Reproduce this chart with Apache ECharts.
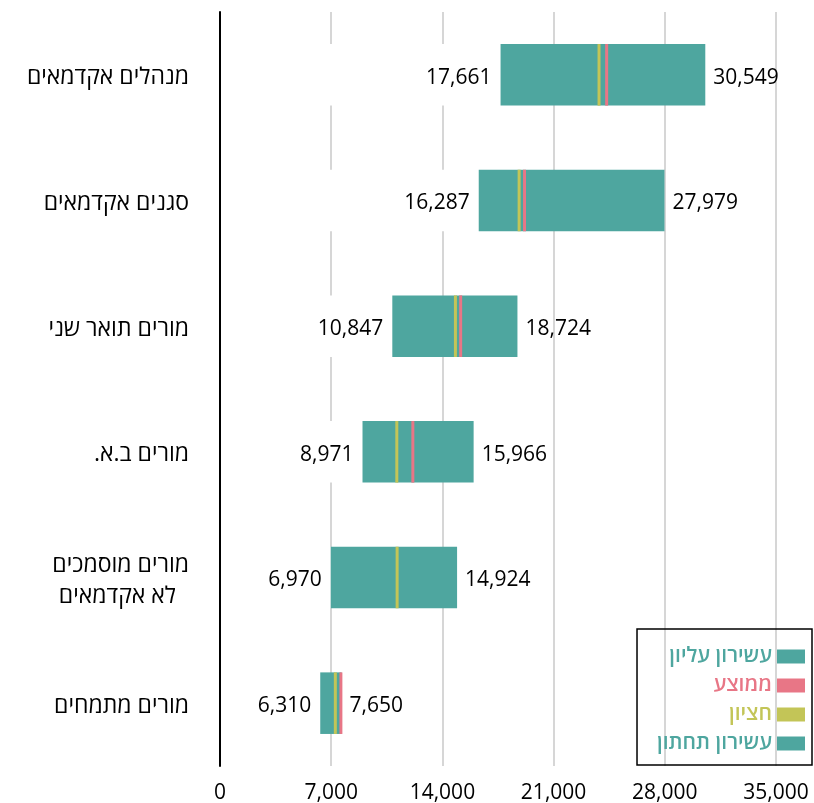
<!DOCTYPE html>
<html>
<head>
<meta charset="utf-8">
<script src="https://cdn.jsdelivr.net/npm/echarts@6/dist/echarts.min.js"></script>
<style>
html,body{margin:0;padding:0;background:#fff;}
#main{width:814px;height:803px;}
</style>
</head>
<body>
<div id="main"></div>
<script>
var categories = ['מנהלים אקדמאים','סגנים אקדמאים','מורים תואר שני','מורים ב.א.\u200F','מורים מוסמכים\nלא אקדמאים','מורים מתמחים'];
var lowerDecile = [17661,16287,10847,8971,6970,6310];
var upperDecile = [30549,27979,18724,15966,14924,7650];
var median = [23860,18830,14820,11130,11150,7260];
var mean = [24340,19170,15150,12140,null,7610];
var xTicks = [0,7000,14000,21000,28000,35000];

var teal = '#4ea69f';
var pink = '#e87686';
var olive = '#c3c557';
var font = 'Open Sans';

function fmt(v){
	return v.toLocaleString('en-US');
}

//קו אנכי לחציון / ממוצע
function lineItem(params,api){
	var v = api.value(0);
	if(v==null || isNaN(v)) return;
	var c = api.coord([v,api.value(1)]);
	var h = api.size([0,1])[1]*0.49;
	return {
		type:'rect',
		shape:{x:c[0]-1.5,y:c[1]-h/2,width:3,height:h},
		style:{fill:api.visual('color')}
	};
}

var baseData = [], lowData = [], highData = [], medData = [], meanData = [];
for(var i=0;i<categories.length;i++){
	baseData.push(lowerDecile[i]);
	lowData.push(median[i]-lowerDecile[i]);
	highData.push(upperDecile[i]-median[i]);
	medData.push([median[i],i]);
	meanData.push([mean[i]==null?'-':mean[i],i]);
}

var myChart = echarts.init(document.getElementById('main'));
var option = {
	animation:false,
	textStyle:{fontFamily:font},
	grid:{left:220,right:38,top:12,bottom:37,outerBoundsMode:'none'},
	legend:{
		orient:'vertical',
		right:2,
		bottom:38,
		align:'right',
		icon:'rect',
		itemWidth:28,
		itemHeight:14,
		itemGap:8,
		borderColor:'#000',
		borderWidth:1.5,
		borderRadius:0,
		padding:[17,7,11,20],
		textStyle:{fontSize:21,fontWeight:600,fontFamily:font},
		data:[
			{name:'עשירון עליון',textStyle:{color:teal}},
			{name:'ממוצע',textStyle:{color:pink}},
			{name:'חציון',textStyle:{color:olive}},
			{name:'עשירון תחתון',textStyle:{color:teal}}
		]
	},
	xAxis:{
		type:'value',
		min:xTicks[0],
		max:xTicks[xTicks.length-1],
		interval:7000,
		axisLine:{show:false},
		axisTick:{show:false},
		axisLabel:{fontSize:21,color:'#000',margin:17,formatter:function(v){return fmt(v);}},
		splitLine:{lineStyle:{color:'#d6d6d6',width:2}}
	},
	yAxis:{
		type:'category',
		inverse:true,
		z:3,
		data:categories,
		axisLine:{lineStyle:{color:'#000',width:2}},
		axisTick:{show:false},
		axisLabel:{
			fontSize:23,color:'#000',margin:31,align:'right',lineHeight:31,
			padding:[6,0,0,0],
			formatter:function(v){
				if(v.indexOf('\n')>0){
					var p = v.split('\n');
					return '{a|'+p[0]+'}\n{b|'+p[1]+'}';
				}
				return v;
			},
			rich:{
				a:{fontSize:23,color:'#000',lineHeight:31},
				b:{fontSize:23,color:'#000',lineHeight:31,padding:[0,13,0,0]}
			}
		}
	},
	series:[
		{
			name:'base',
			type:'bar',
			stack:'r',
			barWidth:'49%',
			silent:true,
			itemStyle:{color:'#fff'},
			data:baseData
		},
		{
			name:'עשירון תחתון',
			type:'bar',
			stack:'r',
			itemStyle:{color:teal},
			label:{
				show:true,position:'left',distance:9,offset:[0,3],fontSize:21,color:'#000',
				formatter:function(p){return fmt(lowerDecile[p.dataIndex]);}
			},
			data:lowData
		},
		{
			name:'עשירון עליון',
			type:'bar',
			stack:'r',
			itemStyle:{color:teal},
			label:{
				show:true,position:'right',distance:8,offset:[0,3],fontSize:21,color:'#000',
				formatter:function(p){return fmt(upperDecile[p.dataIndex]);}
			},
			data:highData
		},
		{
			name:'ממוצע',
			type:'custom',
			itemStyle:{color:pink},
			renderItem:lineItem,
			encode:{x:0,y:1},
			z:5,
			data:meanData
		},
		{
			name:'חציון',
			type:'custom',
			itemStyle:{color:olive},
			renderItem:lineItem,
			encode:{x:0,y:1},
			z:6,
			data:medData
		}
	]
};
myChart.setOption(option);
</script>
</body>
</html>
